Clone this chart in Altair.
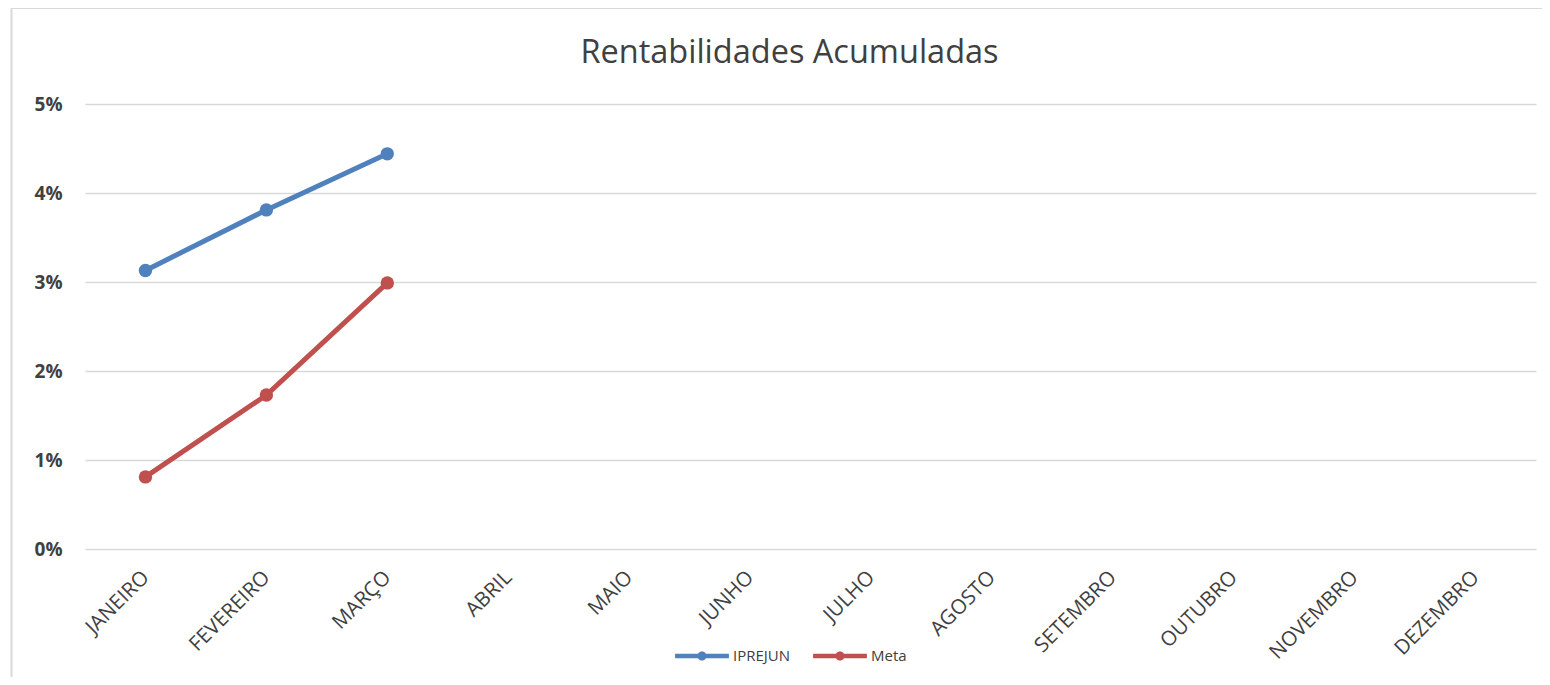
import altair as alt
import pandas as pd

months = ["JANEIRO", "FEVEREIRO", "MARÇO", "ABRIL", "MAIO", "JUNHO", "JULHO",
          "AGOSTO", "SETEMBRO", "OUTUBRO", "NOVEMBRO", "DEZEMBRO"]
series_names = ["IPREJUN", "Meta"]
iprejun = [0.0313, 0.0381, 0.0444]
meta = [0.0081, 0.0173, 0.0299]
colors = ["#4F81BD", "#C0504D"]
title_text = "Rentabilidades Acumuladas"

rows = []
for i, v in enumerate(iprejun):
    rows.append({"mes": months[i], "serie": "IPREJUN", "valor": v})
for i, v in enumerate(meta):
    rows.append({"mes": months[i], "serie": "Meta", "valor": v})
df = pd.DataFrame(rows)

FONT = "Open Sans"
W, H = 1451, 445

x = alt.X("mes:N", sort=months, scale=alt.Scale(domain=months, paddingInner=0, paddingOuter=0),
          axis=alt.Axis(title=None, labelAngle=-45, labelAlign="right", labelBaseline="middle",
                        labelFont=FONT, labelFontSize=20.5, labelColor="#404040",
                        labelPadding=25, ticks=False, domain=False, grid=False, labelOverlap=False))
y = alt.Y("valor:Q", scale=alt.Scale(domain=[0, 0.05], nice=False),
          axis=alt.Axis(title=None, format=".0%", values=[0, 0.01, 0.02, 0.03, 0.04, 0.05],
                        labelFont=FONT, labelFontSize=19, labelFontWeight="bold", labelColor="#404040",
                        labelPadding=23, ticks=False, domain=False, grid=True,
                        gridColor="#D9D9D9", gridWidth=1.5))
color = alt.Color("serie:N", scale=alt.Scale(domain=series_names, range=colors),
                  legend=alt.Legend(title=None, orient="none", direction="horizontal",
                                    legendX=590, legendY=525,
                                    symbolType="M -1 -0.08 H 1 V 0.08 H -1 Z M 0.17 0 A 0.17 0.17 0 1 1 -0.17 0 A 0.17 0.17 0 1 1 0.17 0 Z",
                                    symbolSize=2900, symbolStrokeWidth=0, symbolFillColor=None,
                                    labelFont=FONT, labelFontSize=15, labelColor="#404040",
                                    labelOffset=4, columnPadding=22))

lines = alt.Chart(df).mark_line(strokeWidth=5).encode(x=x, y=y, color=color)
points = alt.Chart(df).mark_point(filled=True, size=180, opacity=1).encode(
    x=x, y=y, color=alt.Color("serie:N", scale=alt.Scale(domain=series_names, range=colors), legend=None))

one = pd.DataFrame({"t": [title_text]})
frame = alt.Chart(one).mark_rect(fill=None, stroke="#D9D9D9", strokeWidth=2).encode(
    x=alt.value(-73.5), x2=alt.value(W + 40), y=alt.value(-96), y2=alt.value(H + 200))
title = alt.Chart(one).mark_text(font=FONT, fontSize=32.5, color="#404040", align="center",
                                 baseline="alphabetic").encode(
    text="t:N", x=alt.value(W / 2 - 21), y=alt.value(-41))

chart = alt.layer(frame, title, lines, points).properties(
    width=W, height=H,
    autosize=alt.AutoSizeParams(type="none"),
    padding={"left": 77, "top": 96, "right": 6, "bottom": 128},
).configure_view(stroke=None).configure_legend(symbolType="circle")

chart.save("out.html", embed_options={"renderer": "svg", "actions": False})
